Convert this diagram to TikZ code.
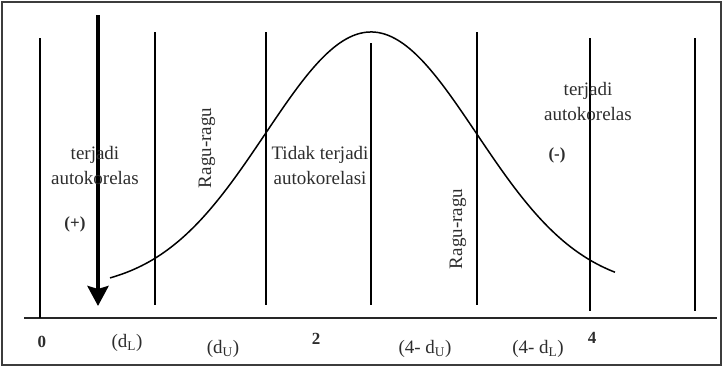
\documentclass[tikz,border=0pt]{standalone}
\usepackage{fontspec}
\setmainfont{Liberation Serif}
\usetikzlibrary{arrows.meta}
\definecolor{txt}{RGB}{45,45,45}
\definecolor{frm}{RGB}{60,60,60}
\tikzset{
  vline/.style={line width=1.8pt, black},
  lbl/.style={inner sep=0pt, text=txt, font=\fontsize{19}{25}\selectfont, align=center},
  blbl/.style={inner sep=0pt, text=txt, font=\fontsize{17}{19}\selectfont\bfseries},
  axlbl/.style={inner sep=0pt, text=txt, font=\fontsize{19}{22}\selectfont},
}
\begin{document}
\begin{tikzpicture}[x=1pt,y=-1pt]
\useasboundingbox (0,0) rectangle (724,367);
\draw[frm, line width=1.5pt] (2,2) rectangle (721,365);
% axis
\coordinate (axL) at (24,318);
\coordinate (axR) at (717,318);
\draw[line width=2.2pt, black!85] (axL) -- (axR);
% vertical lines
\draw[vline] (40,38) -- (40,318);
\draw[vline] (155,32) -- (155,305);
\draw[vline] (266,32) -- (266,305);
\draw[vline] (371,43) -- (371,305);
\draw[vline] (477,32) -- (477,305);
\draw[vline] (590,38) -- (590,311);
\draw[vline] (695,38) -- (695,311);
% curve
\draw[line width=1.5pt, black] plot[smooth, samples=80, domain=110:615]
  (\x, {290-258*exp(-0.5*((\x-371)/105.5)*((\x-371)/105.5))});
% arrow
\coordinate (arT) at (98,15);
\coordinate (arB) at (98,306);
\draw[line width=4pt, -{Stealth[length=20pt,width=21pt,inset=3pt]}] (arT) -- (arB);
% texts
\node[lbl] (t1) at (95,165) {terjadi\\autokorelas};
\node[blbl] (p1) at (75,224) {(+)};
\node[lbl, rotate=90] (r1) at (207,148) {Ragu-ragu};
\node[lbl] (t2) at (320,165) {Tidak terjadi\\autokorelasi};
\node[lbl, rotate=90] (r2) at (458,229) {Ragu-ragu};
\node[lbl] (t3) at (588,101) {terjadi\\autokorelas};
\node[blbl] (m1) at (557,155) {(-)};
% axis labels
\node[blbl] (l0) at (42,342) {0};
\node[axlbl] (l1) at (127,343) {(d\textsubscript{L})};
\node[axlbl] (l2) at (223,349) {(d\textsubscript{U})};
\node[blbl] (l3) at (316,339) {2};
\node[axlbl] (l4) at (425,349) {(4- d\textsubscript{U})};
\node[axlbl] (l5) at (538,349) {(4- d\textsubscript{L})};
\node[blbl] (l6) at (592,338) {4};
\end{tikzpicture}
\end{document}
